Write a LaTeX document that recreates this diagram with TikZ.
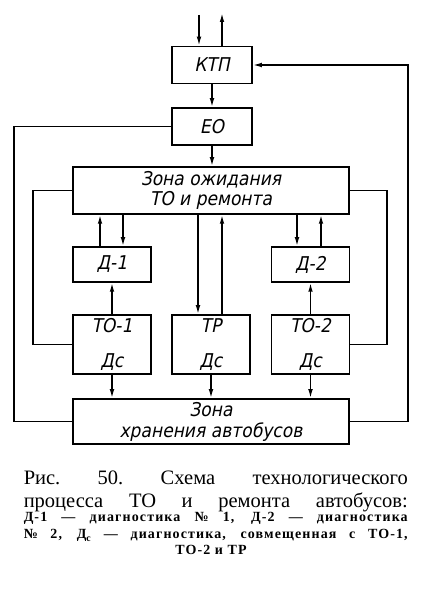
\documentclass[tikz,border=0pt]{standalone}
\usepackage{fontspec}
\setmainfont{Liberation Serif}
\newfontfamily\gostfont{DejaVu Sans}[FakeSlant=0.2, FakeStretch=0.9]
\usetikzlibrary{positioning, arrows.meta}

\begin{document}
\begin{tikzpicture}[x=1pt, y=1pt, line width=1.5pt,
        box/.style={draw, inner sep=0pt, align=center, minimum width=78pt, minimum height=37pt,
                    font=\gostfont\fontsize{19pt}{20pt}\selectfont},
        wide/.style={box, minimum width=276pt},
        arr/.style={-{Latex[length=9pt, width=4.6pt]}},
        captext/.style={anchor=base west, inner sep=0pt}]
      \useasboundingbox (0,0) rectangle (421,598);

      \node[box, minimum width=80pt] (ktp) at (212,533) {КТП};
      \node[box, minimum width=80pt] (eo) at (212,471.5) {ЕО};
      \node[wide, minimum height=47pt] (zo) at (211,407.5) {Зона ожидания\\ТО и ремонта};
      \node[box, minimum height=35pt] (d1) at (112,333.5) {Д-1};
      \node[box, minimum height=35pt] (d2) at (310.5,333.5) {Д-2};
      \node[box, minimum height=59pt] (to1) at (112,253.5) {ТО-1\\[15pt]Дс};
      \node[box, minimum height=59pt] (tr) at (211,253.5) {ТР\\[15pt]Дс};
      \node[box, minimum height=59pt] (to2) at (310.5,253.5) {ТО-2\\[15pt]Дс};
      \node[wide, minimum height=45pt] (zh) at (211,176.5) {Зона\\[1pt]хранения автобусов};

      % points that fix where the lines run
      \coordinate (in) at (199,583);
      \coordinate (out) at (222,585);
      \coordinate (rout) at (408,533);
      \coordinate (lout) at (14,471.5);
      \coordinate (lin) at (33,407.5);
      \coordinate (rin) at (387,407.5);
      \coordinate (d1up) at (100,0);
      \coordinate (d1dn) at (123,0);
      \coordinate (d2dn) at (297,0);
      \coordinate (d2up) at (321,0);
      \coordinate (trdn) at (198,0);
      \coordinate (trup) at (222,0);

      \draw[arr] (in) -- (in |- ktp.north);
      \draw[arr] (out |- ktp.north) -- (out);
      \draw[arr] (ktp) -- (eo);
      \draw[arr] (eo.south) -- (eo.south |- zo.north);

      \draw[arr] (zh.east) -- (zh.east -| rout) -- (rout) -- (ktp.east);
      \draw (eo.west) -- (lout) -- (lout |- zh.west) -- (zh.west);
      \draw (zo.west) -- (lin) -- (lin |- to1.west) -- (to1.west);
      \draw (to2.east) -- (to2.east -| rin) -- (rin) -- (zo.east);

      \draw[arr] (d1.north -| d1up) -- (zo.south -| d1up);
      \draw[arr] (zo.south -| d1dn) -- (d1.north -| d1dn);
      \draw[arr] (zo.south -| d2dn) -- (d2.north -| d2dn);
      \draw[arr] (d2.north -| d2up) -- (zo.south -| d2up);
      \draw[arr] (zo.south -| trdn) -- (tr.north -| trdn);
      \draw[arr] (tr.north -| trup) -- (zo.south -| trup);

      \draw[arr] (to1) -- (d1);
      \draw[arr] (to2) -- (d2);
      \draw[arr] (to1.south) -- (to1.south |- zh.north);
      \draw[arr] (tr.south) -- (tr.south |- zh.north);
      \draw[arr] (to2.south) -- (to2.south |- zh.north);

      % caption
      \node[captext, font=\fontsize{20.5pt}{23pt}\selectfont] (cap1) at (23,113)
        {\makebox[384pt][s]{Рис.\ 50.\ Схема технологического}};
      \node[captext, font=\fontsize{20.5pt}{23pt}\selectfont] (cap2) at (23,90)
        {\makebox[384pt][s]{процесса ТО и ремонта автобусов:}};
      \node[captext, font=\bfseries\fontsize{14pt}{17pt}\selectfont\addfontfeatures{LetterSpace=8}] (cap3) at (23,76)
        {\makebox[384pt][s]{Д-1 — диагностика № 1, Д-2 — диагностика}};
      \node[captext, font=\bfseries\fontsize{14pt}{17pt}\selectfont\addfontfeatures{LetterSpace=8}] (cap4) at (23,59)
        {\makebox[384pt][s]{№ 2, Д\textsubscript{с} — диагностика, совмещенная с ТО-1,}};
      \node[anchor=base, inner sep=0pt, font=\bfseries\fontsize{14pt}{17pt}\selectfont\addfontfeatures{LetterSpace=8}] (cap5) at (211,43)
        {ТО-2 и ТР};
    \end{tikzpicture}
\end{document}
